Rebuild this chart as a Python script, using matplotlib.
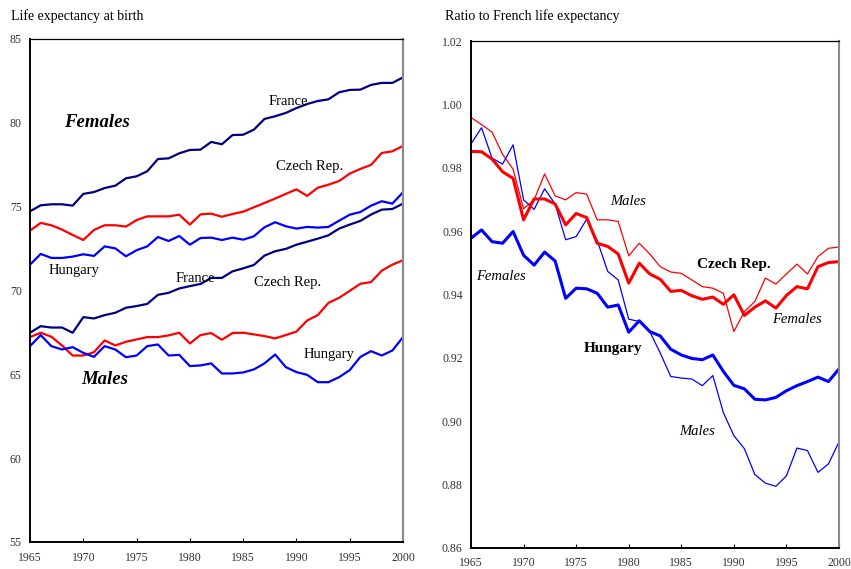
import numpy as np
import matplotlib
matplotlib.use("Agg")
import matplotlib.pyplot as plt

plt.rcParams['font.family'] = ['Liberation Serif', 'DejaVu Serif']

years = np.arange(1965, 2001)

# life expectancy at birth, females
fra_f = [74.72, 75.08, 75.14, 75.14, 75.06, 75.76, 75.87, 76.11, 76.25, 76.69,
         76.81, 77.11, 77.84, 77.88, 78.18, 78.38, 78.40, 78.86, 78.72, 79.27,
         79.29, 79.59, 80.23, 80.39, 80.59, 80.88, 81.12, 81.30, 81.40, 81.82,
         81.96, 81.98, 82.26, 82.38, 82.38, 82.71]
cze_f = [73.57, 74.03, 73.89, 73.63, 73.31, 73.01, 73.61, 73.89, 73.89, 73.81,
         74.20, 74.42, 74.42, 74.42, 74.52, 73.93, 74.54, 74.58, 74.40, 74.56,
         74.70, 74.96, 75.22, 75.48, 75.76, 76.03, 75.64, 76.13, 76.31, 76.53,
         76.97, 77.25, 77.49, 78.20, 78.30, 78.62]
hun_f = [71.54, 72.18, 71.94, 71.94, 72.02, 72.16, 72.06, 72.63, 72.51, 72.04,
         72.40, 72.63, 73.19, 72.95, 73.25, 72.73, 73.13, 73.15, 73.01, 73.15,
         73.03, 73.23, 73.77, 74.07, 73.83, 73.69, 73.79, 73.75, 73.79, 74.16,
         74.52, 74.68, 75.06, 75.32, 75.18, 75.86]

# life expectancy at birth, males
fra_m = [67.48, 67.87, 67.79, 67.79, 67.48, 68.41, 68.33, 68.53, 68.67, 68.97,
         69.07, 69.20, 69.74, 69.86, 70.12, 70.26, 70.39, 70.75, 70.75, 71.14,
         71.32, 71.52, 72.08, 72.34, 72.48, 72.73, 72.91, 73.09, 73.29, 73.69,
         73.93, 74.15, 74.53, 74.82, 74.86, 75.18]
cze_m = [67.22, 67.48, 67.24, 66.72, 66.12, 66.12, 66.32, 67.02, 66.72, 66.94,
         67.08, 67.22, 67.22, 67.32, 67.48, 66.84, 67.34, 67.46, 67.06, 67.46,
         67.48, 67.38, 67.28, 67.14, 67.34, 67.55, 68.21, 68.53, 69.26, 69.56,
         69.98, 70.40, 70.50, 71.18, 71.54, 71.80]
hun_m = [66.68, 67.34, 66.68, 66.48, 66.62, 66.28, 66.04, 66.68, 66.48, 66.02,
         66.12, 66.68, 66.78, 66.12, 66.16, 65.49, 65.53, 65.65, 65.05, 65.05,
         65.11, 65.29, 65.65, 66.18, 65.43, 65.13, 64.97, 64.53, 64.53, 64.83,
         65.25, 66.04, 66.38, 66.12, 66.42, 67.22]

# ratio to French life expectancy
cze_f_ratio = [0.9852, 0.9851, 0.9828, 0.9788, 0.9767, 0.9636, 0.9702, 0.9702, 0.9686, 0.9620,
               0.9656, 0.9643, 0.9562, 0.9552, 0.9528, 0.9436, 0.9499, 0.9465, 0.9448, 0.9410,
               0.9413, 0.9396, 0.9385, 0.9392, 0.9369, 0.9399, 0.9334, 0.9360, 0.9380, 0.9357,
               0.9397, 0.9425, 0.9418, 0.9488, 0.9501, 0.9504]
cze_m_ratio = [0.9959, 0.9937, 0.9913, 0.9843, 0.9796, 0.9671, 0.9699, 0.9781, 0.9712, 0.9699,
               0.9722, 0.9717, 0.9636, 0.9636, 0.9631, 0.9522, 0.9562, 0.9528, 0.9488, 0.9471,
               0.9467, 0.9446, 0.9425, 0.9420, 0.9404, 0.9283, 0.9346, 0.9378, 0.9452, 0.9433,
               0.9465, 0.9496, 0.9465, 0.9520, 0.9546, 0.9550]
hun_f_ratio = [0.9578, 0.9604, 0.9567, 0.9562, 0.9599, 0.9524, 0.9493, 0.9534, 0.9506, 0.9388,
               0.9420, 0.9418, 0.9404, 0.9360, 0.9367, 0.9281, 0.9317, 0.9283, 0.9269, 0.9227,
               0.9209, 0.9198, 0.9194, 0.9209, 0.9157, 0.9113, 0.9102, 0.9069, 0.9067, 0.9075,
               0.9096, 0.9112, 0.9125, 0.9139, 0.9125, 0.9165]
hun_m_ratio = [0.9876, 0.9927, 0.9831, 0.9812, 0.9873, 0.9699, 0.9669, 0.9734, 0.9686, 0.9573,
               0.9583, 0.9638, 0.9571, 0.9473, 0.9446, 0.9322, 0.9315, 0.9283, 0.9215, 0.9141,
               0.9136, 0.9133, 0.9112, 0.9144, 0.9027, 0.8954, 0.8913, 0.8831, 0.8804, 0.8794,
               0.8827, 0.8915, 0.8907, 0.8838, 0.8865, 0.8934]

NAVY, RED, BLUE = "#000080", "#ff0000", "#0000ff"


def style_axes(ax):
    for side in ["left", "bottom"]:
        ax.spines[side].set_linewidth(1.4)
    ax.spines["top"].set_linewidth(0.9)
    ax.spines["right"].set_linewidth(1.5)
    ax.spines["right"].set_color("#8a8a8a")
    ax.set_xlim(1965, 2000)
    ax.set_xticks(range(1965, 2001, 5))
    ax.tick_params(axis="x", direction="in", length=3, width=0.8,
                   labelsize=8.5, labelcolor="#333333", pad=7)
    ax.tick_params(axis="y", length=0, labelsize=8.5, labelcolor="#333333", pad=6)


fig = plt.figure(figsize=(8.51, 5.69), dpi=100)

# left panel
ax1 = fig.add_axes([0.0353, 0.0475, 0.4383, 0.884])
ax1.plot(years, fra_f, color=NAVY, lw=1.6)
ax1.plot(years, cze_f, color=RED, lw=1.6)
ax1.plot(years, hun_f, color=BLUE, lw=1.6)
ax1.plot(years, fra_m, color=NAVY, lw=1.6)
ax1.plot(years, cze_m, color=RED, lw=1.6)
ax1.plot(years, hun_m, color=BLUE, lw=1.6)
style_axes(ax1)
ax1.set_ylim(55, 85)
ax1.set_yticks(range(55, 86, 5))

lbl = dict(fontsize=10.5, ha="center", va="center")
ax1.text(1989.2, 81.3, "France", **lbl)
ax1.text(1991.2, 77.4, "Czech Rep.", **lbl)
ax1.text(1969.1, 71.2, "Hungary", **lbl)
ax1.text(1980.5, 70.7, "France", **lbl)
ax1.text(1989.2, 70.45, "Czech Rep.", **lbl)
ax1.text(1993.1, 66.2, "Hungary", **lbl)
ax1.text(1971.3, 80.0, "Females", fontsize=13.5, weight="bold", style="italic",
         ha="center", va="center")
ax1.text(1972.0, 64.7, "Males", fontsize=13.5, weight="bold", style="italic",
         ha="center", va="center")
fig.text(11 / 851, 1 - 16 / 569, "Life expectancy at birth", fontsize=10,
         ha="left", va="center")

# right panel
ax2 = fig.add_axes([0.5535, 0.0374, 0.4324, 0.890])
ax2.plot(years, cze_m_ratio, color=RED, lw=0.9)
ax2.plot(years, hun_m_ratio, color=BLUE, lw=0.9)
ax2.plot(years, cze_f_ratio, color=RED, lw=2.2)
ax2.plot(years, hun_f_ratio, color=BLUE, lw=2.2)
style_axes(ax2)
ax2.set_ylim(0.86, 1.02)
ax2.set_yticks(np.arange(0.86, 1.021, 0.02))
ax2.yaxis.set_major_formatter(matplotlib.ticker.FormatStrFormatter("%.2f"))

ax2.text(1979.9, 0.9693, "Males", fontsize=10.5, style="italic", ha="center", va="center")
ax2.text(1990.0, 0.9496, "Czech Rep.", fontsize=11, weight="bold", ha="center", va="center")
ax2.text(1967.8, 0.9457, "Females", fontsize=10.5, style="italic", ha="center", va="center")
ax2.text(1996.0, 0.9320, "Females", fontsize=10.5, style="italic", ha="center", va="center")
ax2.text(1978.5, 0.9231, "Hungary", fontsize=11, weight="bold", ha="center", va="center")
ax2.text(1986.5, 0.8967, "Males", fontsize=10.5, style="italic", ha="center", va="center")
fig.text(445 / 851, 1 - 16 / 569, "Ratio to French life expectancy", fontsize=10,
         ha="left", va="center")

fig.savefig("out.png", dpi=100)
plt.close(fig)
